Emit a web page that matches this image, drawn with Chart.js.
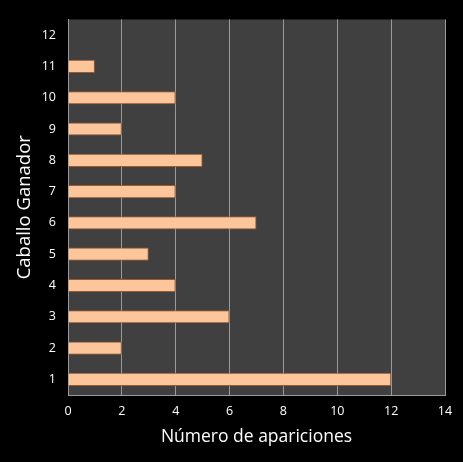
<!DOCTYPE html>
<html><head><meta charset="utf-8">
<script src="https://cdn.jsdelivr.net/npm/chart.js@4"></script>
<style>html,body{margin:0;padding:0;background:#000;}#wrap{width:463px;height:462px;}</style>
</head><body><div id="wrap"><canvas id="c" width="463" height="462"></canvas></div>
<script>
const categories = ['1','2','3','4','5','6','7','8','9','10','11','12'];
const apariciones = [12,2,6,4,3,7,4,5,2,4,1,0];
const xTicks = [0,2,4,6,8,10,12,14];

const bgPlugin = {
  id:'bg',
  beforeDraw(chart){
    const {ctx, chartArea:a} = chart;
    ctx.save();
    ctx.fillStyle='#000';
    ctx.fillRect(0,0,chart.width,chart.height);
    ctx.fillStyle='#404040';
    ctx.fillRect(a.left,a.top,a.right-a.left,a.bottom-a.top);
    ctx.restore();
  }
};

function barGrad(c){
  const el = c.element;
  const chart = c.chart;
  if(!el || el.y===undefined) return '#fcc59a';
  const h = el.height || 13;
  const y0 = el.y - h/2, y1 = el.y + h/2;
  const g = chart.ctx.createLinearGradient(0,y0,0,y1);
  g.addColorStop(0,'#fde3cc');
  g.addColorStop(0.35,'#fccaa0');
  g.addColorStop(0.75,'#f7b884');
  g.addColorStop(1,'#b8784a');
  return g;
}

new Chart(document.getElementById('c'),{
  type:'bar',
  data:{labels:categories,datasets:[{data:apariciones,backgroundColor:barGrad,borderColor:'#9a5a30',borderWidth:1,categoryPercentage:1,barPercentage:0.42}]},
  options:{
    indexAxis:'y',responsive:false,animation:false,
    layout:{padding:{top:10,right:18,left:10,bottom:10}},
    plugins:{legend:{display:false},tooltip:{enabled:false}},
    scales:{
      x:{min:0,max:14,
        afterBuildTicks(s){s.ticks=xTicks.map(v=>({value:v}));},
        afterFit(s){s.height=57;},
        grid:{color:'#9a9a9a',lineWidth:1,drawTicks:false},
        border:{color:'#9a9a9a'},
        ticks:{color:'#fff',font:{family:'Open Sans',size:12.5},padding:9},
        title:{display:true,text:'Número de apariciones',color:'#fff',font:{family:'Open Sans',size:17.5},padding:{top:4}}
      },
      y:{reverse:true,
        afterFit(s){s.width=58;},
        grid:{display:false,drawTicks:false},
        border:{color:'#9a9a9a'},
        ticks:{color:'#fff',font:{family:'Open Sans',size:12.5},padding:12},
        title:{display:true,text:'Caballo Ganador',color:'#fff',font:{family:'Open Sans',size:18.5},padding:{bottom:4}}
      }
    }
  },
  plugins:[bgPlugin]
});
</script></body></html>
